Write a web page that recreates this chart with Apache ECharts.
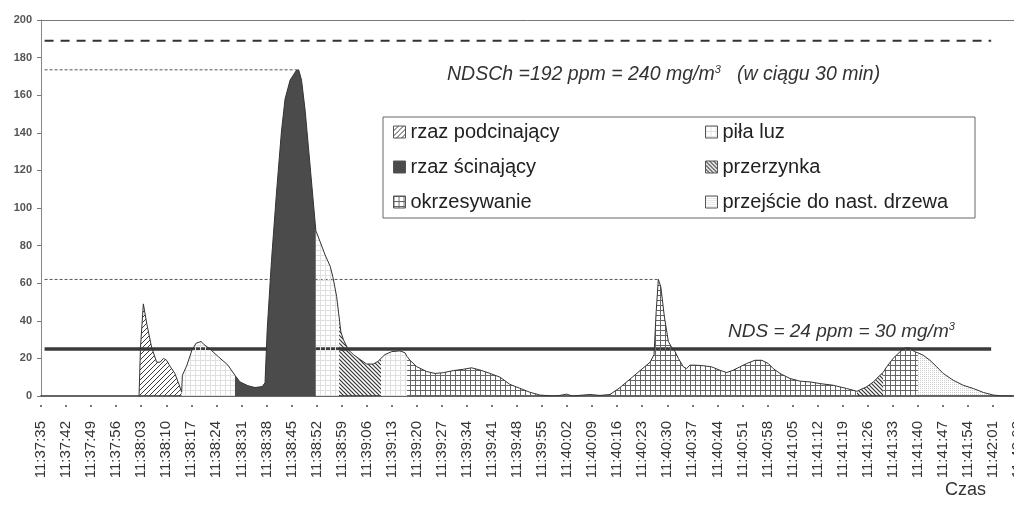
<!DOCTYPE html>
<html>
<head>
<meta charset="utf-8">
<script src="https://cdn.jsdelivr.net/npm/echarts@6/dist/echarts.min.js"></script>
<style>
  html, body { margin: 0; padding: 0; background: #fff; }
  #chart { width: 1014px; height: 509px; }
</style>
</head>
<body>
<div id="chart"></div>
<script>
// tick labels, one every 7 s from 11:37:35
const timeLabels = [
  '11:37:35', '11:37:42', '11:37:49', '11:37:56', '11:38:03', '11:38:10', '11:38:17', '11:38:24',
  '11:38:31', '11:38:38', '11:38:45', '11:38:52', '11:38:59', '11:39:06', '11:39:13', '11:39:20',
  '11:39:27', '11:39:34', '11:39:41', '11:39:48', '11:39:55', '11:40:02', '11:40:09', '11:40:16',
  '11:40:23', '11:40:30', '11:40:37', '11:40:44', '11:40:51', '11:40:58', '11:41:05', '11:41:12',
  '11:41:19', '11:41:26', '11:41:33', '11:41:40', '11:41:47', '11:41:54', '11:42:01', '11:42:08'
];
const labelStep = 7;

// [seconds after 11:37:35, ppm] for each phase of the work
const podcinajacy = [[27.4, 0], [27.8, 26], [28.6, 49], [29.6, 38], [30.9, 26], [32.3, 18], [33.3, 18],
  [34.2, 20], [35.1, 19], [36.0, 16], [37.4, 12], [38.6, 6], [39.3, 2]];
const pilaLuz1 = [[39.3, 2], [39.5, 11], [40.7, 16], [42.1, 24], [43.3, 28], [44.7, 29], [45.5, 27.5],
  [47.2, 25], [49.5, 21], [52.2, 16.5], [54.2, 11]];
const scinajacy = [[54.2, 11], [55.6, 7.5], [57.8, 5.5], [59.8, 4.5], [61.8, 5], [62.6, 7], [63.2, 35],
  [64.4, 72], [65.8, 108], [67.2, 141], [68.2, 158], [69.6, 168], [71.3, 173], [72.0, 173.5],
  [72.8, 168], [73.8, 152], [75.4, 118], [76.8, 88]];
const pilaLuz2 = [[76.8, 88], [78.0, 82], [79.4, 75], [80.8, 69], [81.6, 63], [82.6, 53], [83.3, 42]];
const przerzynka1 = [[83.3, 42], [83.8, 34], [84.5, 30], [85.9, 24.5], [87.3, 22], [89.1, 19.5],
  [91.0, 17], [92.9, 17], [94.2, 18.5], [95.0, 20]];
const pilaLuz3 = [[95.0, 20], [96.1, 22], [98.0, 23.6], [100.3, 24], [101.7, 23], [102.3, 21]];
const okrzesywanie1 = [[102.3, 21], [103.1, 19], [105.0, 15.6], [107.8, 13], [110.1, 12], [112.4, 12.4],
  [115.2, 13.5], [118.0, 14.2], [120.3, 15], [122.7, 13.8], [125.5, 12], [128.3, 10], [131.0, 6.2],
  [133.8, 4.1], [136.6, 2], [139.4, 0.5], [143.1, 0], [145.0, 0.3], [146.9, 1], [148.4, 0],
  [153.4, 0.8], [156.2, 0.3], [159.0, 0.8], [161.8, 4.5], [164.6, 9], [167.4, 13.5], [170.2, 18],
  [171.3, 22], [171.9, 45], [172.5, 62], [173.2, 58], [174.2, 42], [175.3, 29], [176.2, 26],
  [177.2, 23.5], [178.1, 20], [179.5, 15.5], [180.4, 14.6], [181.3, 16.4], [182.7, 16.4],
  [185.1, 16.1], [187.4, 15.5], [189.7, 13.7], [191.6, 12.5], [193.4, 13.7], [195.3, 15.5],
  [197.2, 17.3], [199.5, 19], [201.4, 19], [203.2, 17.3], [204.6, 14.6], [206.5, 12], [209.3, 9.3],
  [212.1, 7.9], [214.9, 7.5], [217.7, 6.6], [221.4, 5.7], [225.1, 4], [228.0, 2.5]];
const przerzynka2 = [[228.0, 2.5], [230.7, 4.9], [232.6, 7.5], [234.4, 11], [235.3, 12.5]];
const okrzesywanie2 = [[235.3, 12.5], [236.3, 15.5], [238.1, 20], [240.0, 23.5], [241.4, 25.5],
  [242.8, 25.5], [244.2, 23.5], [245.0, 23]];
const przejscie = [[245.0, 23], [246.5, 21.7], [248.4, 19], [250.3, 15.5], [252.1, 12], [254.9, 8.4],
  [257.7, 5.7], [260.5, 4], [263.3, 1.9], [266.1, 0.5], [268.8, 0], [271.6, 0]];

// reference levels
const ndsChLevel = 189;
const ndsLevel = 25;
const peakCut = [72.0, 173.5];
const peakTrim = [172.5, 62];
const levelFrom = 1;
const levelTo = 265.5;

const font = '"Liberation Sans", Arial, sans-serif';

function pattern(size, draw) {
  const c = document.createElement('canvas');
  c.width = c.height = size;
  draw(c.getContext('2d'), size);
  return { image: c, repeat: 'repeat' };
}

const fills = {
  'rzaz podcinający': pattern(5, function (g, s) {
    g.strokeStyle = '#3c3c3c'; g.lineWidth = 1;
    g.beginPath();
    g.moveTo(0, s); g.lineTo(s, 0);
    g.moveTo(-1, 1); g.lineTo(1, -1);
    g.moveTo(s - 1, s + 1); g.lineTo(s + 1, s - 1);
    g.stroke();
  }),
  'rzaz ścinający': '#4b4b4b',
  'okrzesywanie': pattern(5, function (g, s) {
    g.fillStyle = '#666';
    g.fillRect(0, 0, s, 1);
    g.fillRect(0, 0, 1, s);
  }),
  'piła luz': pattern(5, function (g, s) {
    g.fillStyle = '#e0e0e0';
    g.fillRect(0, 0, s, 1);
    g.fillRect(0, 0, 1, s);
  }),
  'przerzynka': pattern(4, function (g, s) {
    g.strokeStyle = '#333'; g.lineWidth = 1.2;
    g.beginPath();
    g.moveTo(0, 0); g.lineTo(s, s);
    g.moveTo(s - 1, -1); g.lineTo(s + 1, 1);
    g.moveTo(-1, s - 1); g.lineTo(1, s + 1);
    g.stroke();
  }),
  'przejście do nast. drzewa': pattern(2, function (g) {
    g.fillStyle = '#cfcfcf';
    g.fillRect(0, 0, 1, 1);
  })
};

const segments = [
  ['rzaz podcinający', podcinajacy],
  ['piła luz', pilaLuz1],
  ['rzaz ścinający', scinajacy],
  ['piła luz', pilaLuz2],
  ['przerzynka', przerzynka1],
  ['piła luz', pilaLuz3],
  ['okrzesywanie', okrzesywanie1],
  ['przerzynka', przerzynka2],
  ['okrzesywanie', okrzesywanie2],
  ['przejście do nast. drzewa', przejscie]
];

function levelLine(name, level, to, width, type, color) {
  return {
    name: name, type: 'line', z: 1, silent: true, symbol: 'none',
    data: [[levelFrom, level], [to, level]],
    lineStyle: { color: color, width: width, type: type }
  };
}

const series = [
  levelLine('NDSCh', ndsChLevel, levelTo, 2, [9, 7], '#333'),
  levelLine('NDS', ndsLevel, levelTo, 3.5, 'solid', '#3a3a3a'),
  levelLine('max1', peakCut[1], peakCut[0], 1, [3, 2], '#555'),
  levelLine('max2', peakTrim[1], peakTrim[0], 1, [3, 2], '#555')
].concat(segments.map(function (s) {
  return {
    name: s[0], type: 'line', z: 2, silent: true, symbol: 'none',
    data: s[1],
    lineStyle: { color: '#333', width: 1 },
    areaStyle: { color: fills[s[0]], opacity: 1 }
  };
}));

function legendItems(names) {
  return names.map(function (n) {
    return { name: n, icon: 'rect', itemStyle: { color: fills[n], borderColor: '#555', borderWidth: 1 } };
  });
}

const legendBase = {
  orient: 'vertical', top: 117, itemWidth: 12, itemHeight: 12, itemGap: 15,
  selectedMode: false,
  textStyle: { fontSize: 20, color: '#222', fontFamily: font, lineHeight: 20 }
};

const tickValues = timeLabels.map(function (_, i) { return i * labelStep; });

const chart = echarts.init(document.getElementById('chart'));
chart.setOption({
  animation: false,
  backgroundColor: '#fff',
  grid: { left: 41, right: -4, top: 20, bottom: 113, outerBoundsMode: 'none', containLabel: false },
  xAxis: [{
    type: 'value', min: 0, max: 273,
    axisLine: { lineStyle: { color: '#333', width: 1.5 } },
    axisTick: { customValues: tickValues, length: 12, lineStyle: { color: '#777', width: 2, type: [0, 9, 2, 20] } },
    axisLabel: {
      customValues: tickValues, rotate: 90, margin: 25, fontSize: 15, color: '#333', fontFamily: font,
      formatter: function (v) { return timeLabels[Math.round(v / labelStep)]; }
    },
    splitLine: { show: false }
  }, {
    type: 'value', position: 'top', min: 0, max: 273,
    axisLine: { show: true, lineStyle: { color: '#777', width: 1 } },
    axisTick: { show: false }, axisLabel: { show: false }, splitLine: { show: false }
  }],
  yAxis: {
    type: 'value', min: 0, max: 200, interval: 20,
    axisLine: { show: true, lineStyle: { color: '#888' } },
    axisTick: { show: true, length: 4, lineStyle: { color: '#777' } },
    axisLabel: { fontSize: 11, fontWeight: 'bold', color: '#555', margin: 9, fontFamily: font },
    splitLine: { show: false }
  },
  legend: [
    Object.assign({ left: 388, data: legendItems(['rzaz podcinający', 'rzaz ścinający', 'okrzesywanie']) }, legendBase),
    Object.assign({ left: 700, data: legendItems(['piła luz', 'przerzynka', 'przejście do nast. drzewa']) }, legendBase)
  ],
  graphic: [
    { type: 'rect', z: 0, shape: { x: 383, y: 117, width: 592, height: 101 },
      style: { fill: '#fff', stroke: '#666', lineWidth: 1 } },
    { type: 'text', left: 447, top: 64,
      style: {
        text: '{a|NDSCh =192 ppm = 240 mg/m}{s|3}{a|   (w ciągu 30 min)}',
        rich: {
          a: { fontSize: 19.5, fontStyle: 'italic', fill: '#333', fontFamily: font, lineHeight: 22 },
          s: { fontSize: 11, fontStyle: 'italic', fill: '#333', fontFamily: font, lineHeight: 11, verticalAlign: 'top' }
        }
      } },
    { type: 'text', left: 728, top: 321,
      style: {
        text: '{a|NDS = 24 ppm = 30 mg/m}{s|3}',
        rich: {
          a: { fontSize: 19, fontStyle: 'italic', fill: '#333', fontFamily: font, lineHeight: 22 },
          s: { fontSize: 11, fontStyle: 'italic', fill: '#333', fontFamily: font, lineHeight: 11, verticalAlign: 'top' }
        }
      } },
    { type: 'text', left: 945, top: 481,
      style: { text: 'Czas', fontSize: 18, fill: '#333', fontFamily: font } }
  ],
  series: series
});
</script>
</body>
</html>
